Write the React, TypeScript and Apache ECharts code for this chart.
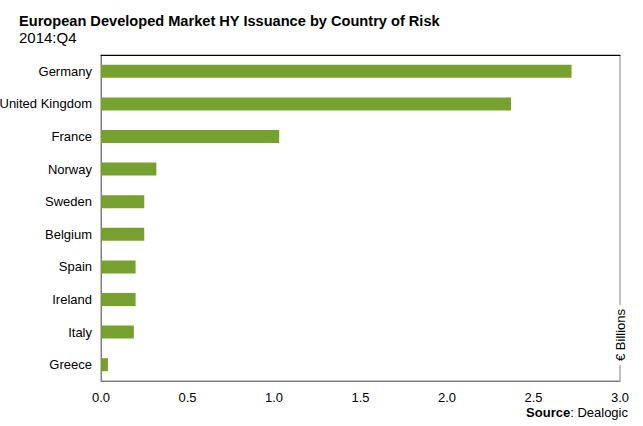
import React, { useEffect, useRef } from "react";
import * as echarts from "echarts";

const countries = ["Germany", "United Kingdom", "France", "Norway", "Sweden", "Belgium", "Spain", "Ireland", "Italy", "Greece"];
const issuance = [2.72, 2.37, 1.03, 0.32, 0.25, 0.25, 0.2, 0.2, 0.19, 0.04];
const xTicks = [0, 0.5, 1, 1.5, 2, 2.5, 3];

const FONT = "'Liberation Sans', Arial, sans-serif";

export default function App() {
  const ref = useRef<HTMLDivElement>(null);
  useEffect(() => {
    if (!ref.current) return;
    const chart = echarts.init(ref.current, null, { renderer: "svg" });
    chart.setOption({
      animation: false,
      backgroundColor: "#ffffff",
      textStyle: { fontFamily: FONT },
      title: [
        {
          text: "European Developed Market HY Issuance by Country of Risk",
          left: 14,
          top: 8,
          textStyle: { fontFamily: FONT, fontSize: 14.6, fontWeight: "bold", color: "#000" },
        },
        {
          text: "2014:Q4",
          left: 14,
          top: 25,
          textStyle: { fontFamily: FONT, fontSize: 15, fontWeight: "normal", color: "#000" },
        },
      ],
      grid: {
        left: 101,
        right: 23,
        top: 55,
        bottom: 45,
        containLabel: false,
        outerBoundsMode: "none",
        show: true,
        borderColor: "#808080",
        borderWidth: 1,
      },
      xAxis: [
        {
          type: "value",
          min: xTicks[0],
          max: xTicks[xTicks.length - 1],
          interval: 0.5,
          axisLine: { show: true, lineStyle: { color: "#808080" } },
          axisTick: { show: false },
          splitLine: { show: false },
          axisLabel: {
            color: "#000",
            fontSize: 13,
            fontFamily: FONT,
            margin: 10,
            formatter: (v: number) => v.toFixed(1),
          },
        },
        {
          type: "value",
          position: "top",
          min: xTicks[0],
          max: xTicks[xTicks.length - 1],
          interval: 0.5,
          axisLine: { show: true, lineStyle: { color: "#000", width: 1 } },
          axisTick: { show: false },
          splitLine: { show: false },
          axisLabel: { show: false },
        },
      ],
      yAxis: {
        type: "category",
        data: countries,
        inverse: true,
        axisLine: { show: true, lineStyle: { color: "#808080" } },
        axisTick: { show: false },
        axisLabel: { color: "#000", fontSize: 13, fontFamily: FONT, margin: 9 },
      },
      series: [
        {
          type: "bar",
          data: issuance,
          barWidth: 13,
          itemStyle: { color: "#77A12F" },
        },
      ],
      graphic: [
        {
          type: "text",
          x: 620,
          y: 335,
          rotation: Math.PI / 2,
          style: {
            text: "€ Billions",
            font: `13px ${FONT}`,
            fill: "#000",
            align: "center",
            verticalAlign: "middle",
            backgroundColor: "#fff",
            padding: [0, 4],
          },
        },
        {
          type: "text",
          right: 15,
          top: 406,
          style: {
            rich: {
              b: { fontWeight: "bold", fontSize: 13, fontFamily: FONT, fill: "#000" },
              n: { fontSize: 13, fontFamily: FONT, fill: "#000" },
            },
            text: "{b|Source}{n|: Dealogic}",
          },
        },
      ],
    });
    return () => chart.dispose();
  }, []);
  return (
    <div
      ref={ref}
      style={{ position: "fixed", left: 0, top: 0, width: 643, height: 426 }}
    />
  );
}
